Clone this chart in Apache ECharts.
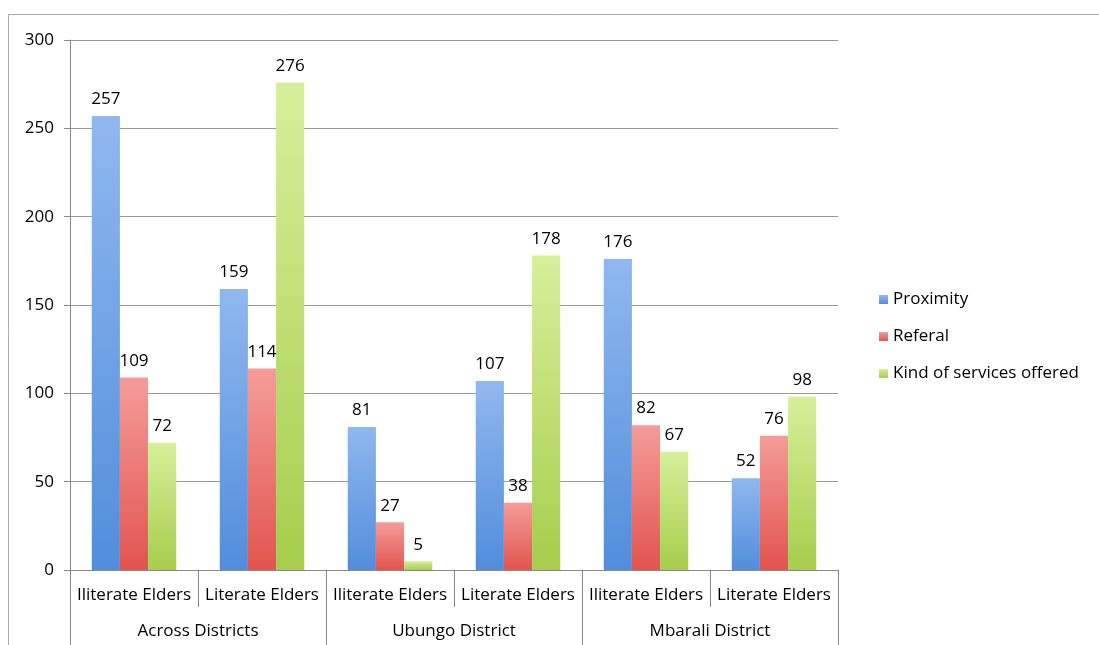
<!DOCTYPE html>
<html><head><meta charset="utf-8">
<script src="https://cdn.jsdelivr.net/npm/echarts@6/dist/echarts.min.js"></script>
<style>html,body{margin:0;padding:0;background:#fff}#c{width:1099px;height:645px}</style>
</head><body><div id="c"></div>
<script>
const categories = ["Iliterate Elders","Literate Elders","Iliterate Elders","Literate Elders","Iliterate Elders","Literate Elders"];
const groups = ["Across Districts","Ubungo District","Mbarali District"];
const proximity = [257,159,81,107,176,52];
const referal = [109,114,27,38,82,76];
const kindOfServices = [72,276,5,178,67,98];
const yTicks = {min:0,max:300,interval:50};

const font = "'Open Sans', Lato, sans-serif";
function grad(top, bottom){
  return new echarts.graphic.LinearGradient(0,0,0,1,[{offset:0,color:top},{offset:1,color:bottom}]);
}
function mk(name, data, top, bottom){
  return {name, type:'bar', data, barGap:'0%', barCategoryGap:'34%',
    itemStyle:{color:grad(top,bottom)},
    label:{show:true, position:'top', distance:8, color:'#000', fontSize:17, fontFamily:font}};
}
const chart = echarts.init(document.getElementById('c'));
chart.setOption({
  animation:false,
  backgroundColor:'#fff',
  graphic:[{type:'rect', shape:{x:8.5,y:14.5,width:1100,height:640}, style:{fill:'none',stroke:'#aaa',lineWidth:1}, silent:true}],
  grid:{left:70,right:261,top:40,bottom:75},
  legend:{orient:'vertical', left:874, top:286, itemWidth:9, itemHeight:9, itemGap:20,
    icon:'rect', textStyle:{fontSize:17, color:'#000', fontFamily:font},
    data:['Proximity','Referal','Kind of services offered']},
  xAxis:[
    {type:'category', data:categories, position:'bottom',
     axisLine:{lineStyle:{color:'#888'}},
     axisTick:{show:true, alignWithLabel:false, length:37, lineStyle:{color:'#888'}},
     axisLabel:{color:'#000', fontSize:17, fontFamily:font, margin:17, interval:0}},
    {type:'category', data:groups, position:'bottom',
     axisLine:{show:false},
     axisTick:{show:true, length:75, lineStyle:{color:'#888'}},
     axisLabel:{color:'#000', fontSize:17, fontFamily:font, margin:53, interval:0}}
  ],
  yAxis:{type:'value', min:yTicks.min, max:yTicks.max, interval:yTicks.interval,
    axisLine:{show:true, lineStyle:{color:'#888'}},
    axisTick:{show:true, length:6, lineStyle:{color:'#888'}},
    axisLabel:{color:'#000', fontSize:17, fontFamily:font, margin:16},
    splitLine:{lineStyle:{color:'#999'}}},
  series:[
    mk('Proximity', proximity, '#8fb8ef', '#528ddb'),
    mk('Referal', referal, '#f49c99', '#e2544f'),
    mk('Kind of services offered', kindOfServices, '#d6ef9a', '#a6cd4c')
  ]
});
</script></body></html>
